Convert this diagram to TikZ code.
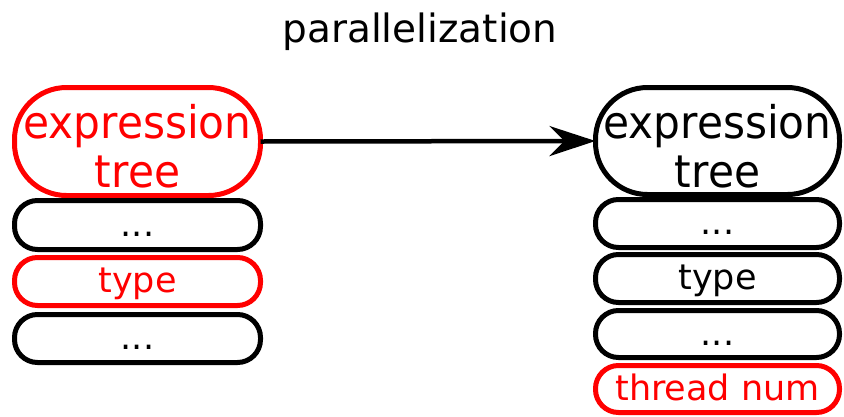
\documentclass[tikz,border=0pt]{standalone}
\usepackage{fontspec}
\setmainfont{DejaVu Sans}
\newfontfamily\exprfont[FakeStretch=0.94]{DejaVu Sans}
\usetikzlibrary{arrows.meta}
\begin{document}
\begin{tikzpicture}[x=1pt,y=-1pt,
  bigbox/.style={draw, line width=5pt, rounded corners=52pt, inner sep=0pt, outer sep=0pt,
    align=center, font=\exprfont\fontsize{45}{49}\selectfont},
  smallbox/.style={draw, line width=5pt, rounded corners=23pt, inner sep=0pt, outer sep=0pt,
    text height=30pt, text depth=8pt, font=\fontsize{35}{42}\selectfont},
  hot/.style={red, text=red}
]
\useasboundingbox (0,0) rectangle (844,416);
\node[anchor=base, font=\fontsize{39}{47}\selectfont] (title) at (420,42) {parallelization};
% left stack
\node[bigbox, hot, minimum width=246pt, minimum height=108pt] (lexpr) at (137.5,141.5) {\rule{0pt}{44pt}expression\\tree};
\node[smallbox, minimum width=246pt, minimum height=49pt] (ld1) at (137.5,225) {...};
\node[smallbox, hot, minimum width=246pt, minimum height=48pt] (ltype) at (137.5,281.5) {type};
\node[smallbox, minimum width=246pt, minimum height=48pt] (ld2) at (137.5,338.5) {...};
% right stack
\node[bigbox, minimum width=244pt, minimum height=107pt] (rexpr) at (717.5,141) {\rule{0pt}{44pt}expression\\tree};
\node[smallbox, minimum width=244pt, minimum height=48pt] (rd1) at (717.5,223.5) {...};
\node[smallbox, minimum width=244pt, minimum height=48pt] (rtype) at (717.5,278.5) {type};
\node[smallbox, minimum width=244pt, minimum height=47pt] (rd2) at (717.5,334) {...};
\node[smallbox, hot, minimum width=244pt, minimum height=47pt] (rthread) at (717.5,389) {thread num};
% arrow
\draw[line width=4.5pt, -{Stealth[length=46pt,width=30pt]}] (lexpr.east) -- (rexpr.west);
\end{tikzpicture}
\end{document}
